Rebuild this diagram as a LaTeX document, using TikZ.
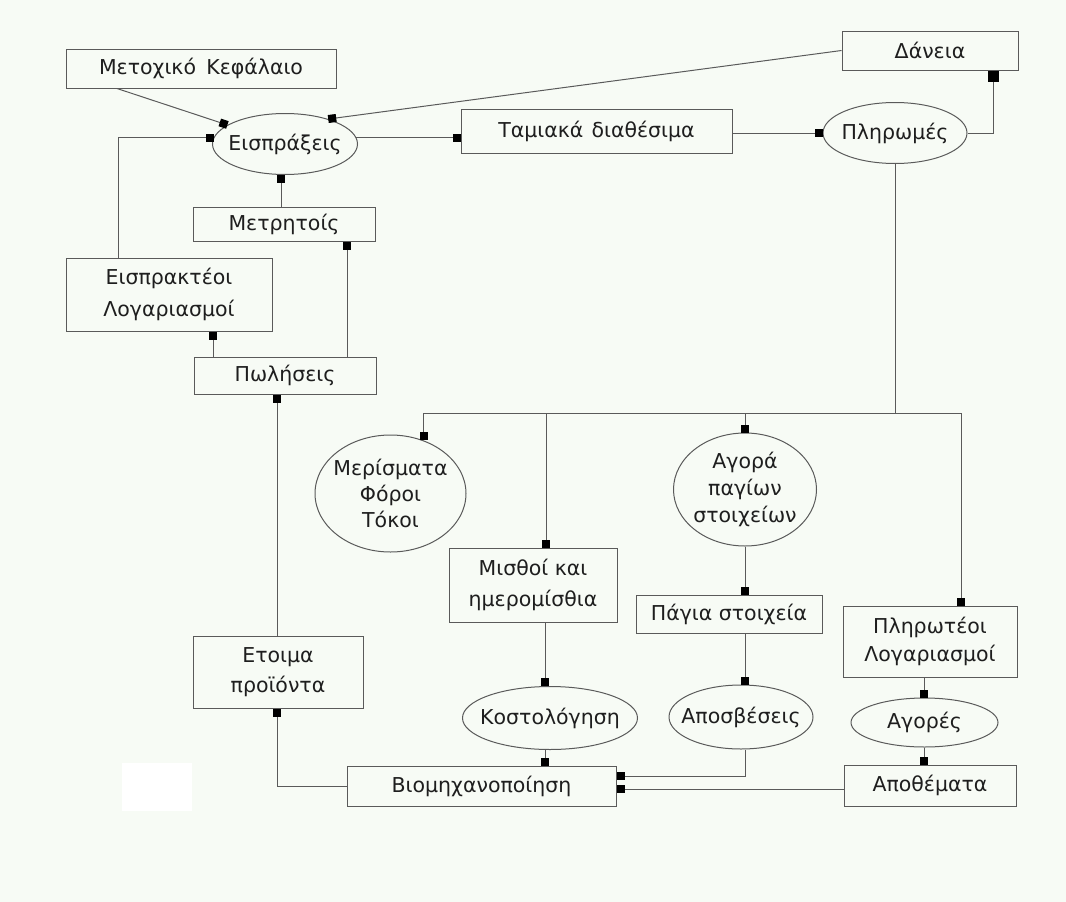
\documentclass[tikz,border=0pt]{standalone}
\usepackage{fontspec}
\setmainfont{DejaVu Sans}
\usetikzlibrary{shapes.geometric,arrows.meta}
\definecolor{bg}{RGB}{247,251,245}
\definecolor{ln}{RGB}{90,90,90}
\definecolor{tx}{RGB}{30,30,30}
\begin{document}
\begin{tikzpicture}[x=1pt,y=-1pt,
  lbl/.style={text=tx, align=center, inner sep=0pt, font=\fontsize{20.5}{28}\selectfont},
  box/.style={lbl, draw=ln, line width=1pt, rectangle},
  oval/.style={draw=ln, line width=1pt, ellipse, inner sep=0pt},
  conn/.style={draw=ln, line width=1pt},
  sq/.style={conn, -{Square[length=8pt,width=8pt,color=black]}},
  bigsq/.style={conn, -{Square[length=11pt,width=11pt,color=black]}}
]
\fill[bg] (0,0) rectangle (1066,902);
\fill[white] (122,763) rectangle (192,811);

% nodes
\node[box, minimum width=270pt, minimum height=39pt] (metox) at (201,68.5) {Μετοχικό\hspace{0.5em}Κεφάλαιο};
\node[oval, minimum width=145pt, minimum height=61pt, label={[lbl]center:Εισπράξεις}] (eis) at (285,144) {};
\node[box, minimum width=271pt, minimum height=44pt] (tam) at (596.5,131) {Ταμιακά\hspace{0.4em}διαθέσιμα};
\node[oval, minimum width=144pt, minimum height=61pt, label={[lbl]center:Πληρωμές}] (plir) at (895,133) {};
\node[box, minimum width=176pt, minimum height=39pt] (dan) at (930,50.5) {Δάνεια};
\node[box, minimum width=182pt, minimum height=34pt] (metr) at (284,224) {Μετρητοίς};
\node[box, minimum width=206pt, minimum height=73pt, font=\fontsize{20.5}{32}\selectfont] (eispr) at (169,294.5) {Εισπρακτέοι\\Λογαριασμοί};
\node[box, minimum width=182pt, minimum height=37pt] (pol) at (285,375.5) {Πωλήσεις};
\node[oval, minimum width=151pt, minimum height=117pt, label={[lbl, font=\fontsize{20.5}{26}\selectfont]center:{Μερίσματα\\Φόροι\\Τόκοι}}] (mer) at (390.5,493.5) {};
\node[oval, minimum width=143pt, minimum height=113pt, label={[lbl, font=\fontsize{20.5}{27}\selectfont]center:{Αγορά\\παγίων\\στοιχείων}}] (agp) at (745,489.5) {};
\node[box, minimum width=168pt, minimum height=74pt, font=\fontsize{20.5}{31}\selectfont] (mis) at (533,585) {Μισθοί και\\ημερομίσθια};
\node[box, minimum width=186pt, minimum height=38pt] (pag) at (729,614) {Πάγια στοιχεία};
\node[box, minimum width=174pt, minimum height=71pt] (plt) at (930,641.5) {Πληρωτέοι\\Λογαριασμοί};
\node[box, minimum width=170pt, minimum height=72pt, font=\fontsize{20.5}{30}\selectfont] (etoim) at (278,672) {Ετοιμα\\προϊόντα};
\node[oval, minimum width=175pt, minimum height=63pt, label={[lbl]center:Κοστολόγηση}] (kost) at (550,718) {};
\node[oval, minimum width=144pt, minimum height=64pt, label={[lbl]center:Αποσβέσεις}] (apos) at (741,717) {};
\node[oval, minimum width=147pt, minimum height=49pt, label={[lbl]center:Αγορές}] (agor) at (924.5,722.5) {};
\node[box, minimum width=269pt, minimum height=40pt] (biom) at (481.5,786) {Βιομηχανοποίηση};
\node[box, minimum width=172pt, minimum height=41pt] (apoth) at (930,785.5) {Αποθέματα};

% top part
\draw[sq] ([xshift=-84pt]metox.south) -- (eis);
\draw[sq] (dan.west) -- (eis.30);
\draw[sq] (eis.5) -- (eis.5 -| tam.west);
\draw[sq] (tam.east |- plir.west) -- (plir.west);
\draw[bigsq] (plir.east) -| ([xshift=63pt]dan.south);
\draw[sq] ([xshift=-3pt]metr.north) -- ([xshift=-3pt]metr.north |- eis.south);
\draw[sq] ([xshift=-51pt]eispr.north) |- (eis.175);
\draw[sq] ([xshift=44pt]eispr.south |- pol.north) -- ([xshift=44pt]eispr.south);
\draw[sq] ([xshift=62pt]pol.north) -- ([xshift=62pt]pol.north |- metr.south);
\draw[sq] ([xshift=-1pt]etoim.north) -- ([xshift=-1pt]etoim.north |- pol.south);
\draw[sq] (biom.west) -| ([xshift=-1pt]etoim.south);

% payments bus
\coordinate (busR) at (961,413);
\draw[conn] (plir.south) -- (plir.south |- busR);
\draw[conn] (mer.58 |- busR) -- (busR);
\draw[sq] (mer.58 |- busR) -- (mer.58);
\draw[sq] ([xshift=13pt]mis.north |- busR) -- ([xshift=13pt]mis.north);
\draw[sq] (agp.north |- busR) -- (agp.north);
\draw[sq] (busR) -- (busR |- plt.north);

% lower part
\draw[sq] (agp.south) -- (agp.south |- pag.north);
\draw[sq] (agp.south |- pag.south) -- (agp.south |- apos.north);
\draw[sq] (agp.south |- apos.south) |- ([yshift=10pt]biom.east);
\draw[sq] ([xshift=12pt]mis.south) -- ([xshift=12pt]mis.south |- kost.north);
\draw[sq] ([xshift=-5pt]kost.south) -- ([xshift=-5pt]kost.south |- biom.north);
\draw[sq] ([xshift=-6pt]plt.south) -- ([xshift=-6pt]plt.south |- agor.north);
\draw[sq] ([xshift=-6pt]plt.south |- agor.south) -- ([xshift=-6pt]plt.south |- apoth.north);
\draw[sq] (apoth.west |- 0,789) -- (biom.east |- 0,789);
\end{tikzpicture}
\end{document}
